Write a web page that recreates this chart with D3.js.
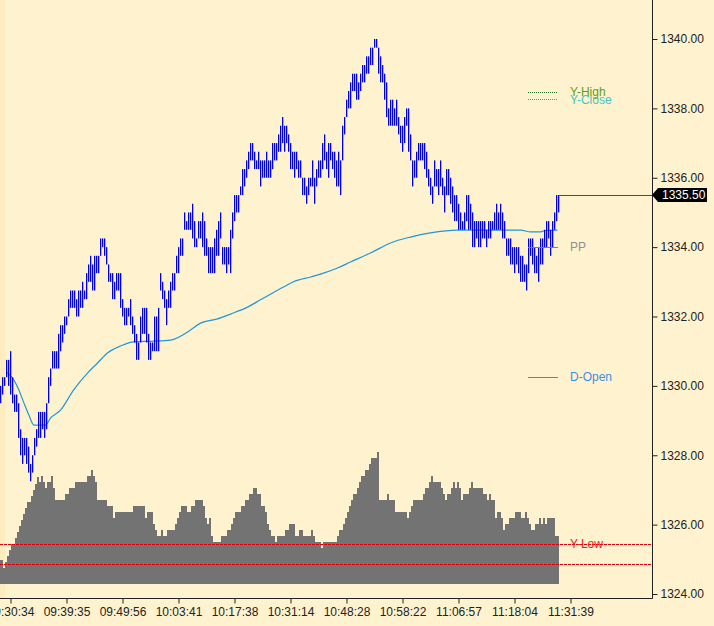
<!DOCTYPE html>
<html>
<head>
<meta charset="utf-8">
<script src="https://cdnjs.cloudflare.com/ajax/libs/d3/7.8.5/d3.min.js"></script>
<style>
  html, body { margin: 0; padding: 0; background: #fff2cf; overflow: hidden; }
  svg { display: block; font-family: "Liberation Sans", Arial, sans-serif; }
</style>
</head>
<body>
<div id="chart"></div>
<script>
// Bar highs / lows, one per tick bar (0.25 steps)
const highs = [
  1330.00,1330.25,1330.25,1330.75,1330.75,1331.00,1330.25,1329.75,1329.75,1329.50,
  1328.75,1328.50,1328.50,1328.50,1328.25,1327.75,1328.00,1328.50,1328.75,1329.25,
  1329.25,1329.25,1329.25,1329.50,1330.25,1330.50,1331.00,1331.00,1331.00,1331.50,
  1331.75,1331.75,1332.00,1332.00,1332.50,1332.75,1332.75,1332.75,1332.50,1332.75,
  1332.75,1333.00,1332.75,1333.25,1333.50,1333.75,1333.50,1333.75,1333.75,1333.75,
  1334.25,1334.25,1334.25,1334.00,1333.50,1333.25,1333.25,1333.00,1333.25,1333.25,
  1333.25,1332.50,1332.25,1332.25,1332.25,1332.50,1332.00,1331.75,1331.50,1331.25,
  1332.00,1332.25,1332.25,1332.25,1331.50,1331.25,1331.25,1332.00,1332.00,1332.25,
  1333.25,1333.00,1332.75,1332.50,1332.75,1333.00,1333.25,1333.25,1333.75,1334.00,
  1334.25,1334.25,1335.00,1334.75,1335.00,1335.00,1335.25,1334.75,1334.25,1334.75,
  1334.75,1335.00,1334.75,1334.25,1334.00,1334.00,1334.00,1334.25,1334.50,1334.75,
  1335.00,1334.00,1334.00,1334.00,1334.00,1334.50,1335.00,1335.50,1335.50,1335.50,
  1335.75,1336.25,1336.25,1336.50,1336.75,1337.00,1337.00,1336.75,1336.50,1336.75,
  1336.50,1336.50,1336.50,1336.75,1336.50,1336.50,1337.00,1337.00,1337.00,1337.25,
  1337.50,1337.75,1337.50,1337.50,1337.25,1337.00,1336.75,1336.75,1336.75,1336.50,
  1336.50,1336.00,1336.00,1335.75,1336.00,1336.00,1336.50,1336.00,1336.25,1336.50,
  1336.50,1337.00,1337.25,1336.75,1337.00,1337.00,1336.75,1336.75,1336.50,1336.75,
  1336.50,1337.50,1337.75,1338.25,1338.50,1338.75,1339.00,1339.00,1339.00,1338.75,
  1339.00,1339.25,1339.25,1339.50,1339.50,1339.75,1339.75,1340.00,1340.00,1339.75,
  1339.50,1339.25,1339.00,1338.75,1338.00,1338.25,1338.25,1338.00,1338.25,1337.75,
  1337.50,1337.50,1337.75,1338.00,1338.00,1337.25,1336.50,1336.50,1336.75,1337.00,
  1337.00,1337.00,1337.00,1336.75,1336.25,1336.00,1335.75,1336.50,1336.25,1336.25,
  1336.50,1336.00,1335.75,1336.25,1336.25,1336.00,1335.75,1335.50,1335.50,1335.25,
  1335.00,1334.75,1335.00,1335.50,1335.50,1335.25,1335.00,1334.75,1334.75,1334.75,
  1334.75,1334.75,1334.75,1334.50,1334.75,1334.75,1334.75,1335.00,1335.25,1335.00,
  1335.25,1335.00,1334.75,1334.25,1334.25,1334.25,1334.00,1334.00,1334.00,1334.00,
  1333.75,1333.75,1333.50,1333.50,1334.25,1334.25,1334.25,1334.00,1333.75,1334.00,
  1334.25,1334.25,1334.50,1334.75,1334.75,1334.50,1334.75,1335.00,1335.50,1335.50
];
const lows = [
  1329.50,1329.75,1330.00,1330.25,1330.00,1329.75,1329.50,1329.25,1329.25,1328.50,
  1328.00,1327.75,1328.00,1327.75,1327.50,1327.25,1327.50,1328.00,1328.25,1328.50,
  1328.50,1328.75,1328.50,1328.75,1329.50,1330.00,1330.50,1330.50,1330.50,1330.50,
  1331.00,1331.25,1331.50,1331.75,1332.00,1332.25,1332.25,1332.25,1332.00,1332.00,
  1332.25,1332.25,1332.50,1332.50,1333.00,1333.00,1332.75,1332.75,1333.25,1333.25,
  1333.75,1334.00,1333.75,1333.50,1333.00,1333.00,1332.50,1332.50,1332.75,1332.75,
  1332.25,1332.00,1331.75,1331.75,1332.00,1331.75,1331.50,1331.25,1330.75,1330.75,
  1331.25,1331.50,1331.50,1331.25,1330.75,1330.75,1331.00,1331.00,1331.00,1331.00,
  1332.75,1332.50,1332.25,1331.75,1332.25,1332.25,1332.75,1332.75,1333.25,1333.25,
  1333.75,1333.75,1334.50,1334.50,1334.50,1334.50,1334.25,1334.00,1334.00,1334.25,
  1334.25,1334.00,1333.75,1333.75,1333.25,1333.25,1333.25,1333.25,1333.75,1333.75,
  1334.25,1333.50,1333.50,1333.25,1333.50,1333.25,1334.25,1334.75,1335.00,1335.00,
  1335.50,1335.50,1335.75,1336.00,1336.25,1336.50,1336.50,1336.25,1336.25,1336.25,
  1335.75,1336.00,1336.00,1336.00,1336.00,1336.00,1336.25,1336.50,1336.50,1336.75,
  1336.75,1337.00,1336.75,1337.00,1336.75,1336.25,1336.25,1336.00,1336.25,1336.00,
  1336.00,1335.50,1335.50,1335.25,1335.50,1335.75,1335.75,1335.25,1335.75,1336.00,
  1336.00,1336.25,1336.50,1336.25,1336.00,1336.50,1336.25,1336.00,1335.75,1335.75,
  1335.50,1336.50,1337.25,1337.75,1338.00,1338.00,1338.50,1338.50,1338.25,1338.25,
  1338.50,1338.75,1338.75,1339.00,1339.00,1339.25,1339.25,1339.75,1339.75,1339.00,
  1338.75,1338.75,1338.25,1337.75,1337.50,1337.50,1337.50,1337.50,1337.50,1337.25,
  1337.00,1336.75,1337.00,1337.50,1336.75,1336.50,1335.75,1336.00,1336.00,1336.50,
  1336.50,1336.50,1336.25,1336.00,1335.75,1335.50,1335.25,1335.75,1335.75,1335.50,
  1335.75,1335.50,1335.00,1335.50,1335.50,1335.25,1335.00,1334.75,1334.75,1334.50,
  1334.50,1334.50,1334.50,1334.75,1334.50,1334.50,1334.00,1334.00,1334.25,1334.00,
  1334.00,1334.25,1334.25,1334.00,1334.25,1334.25,1334.50,1334.50,1334.50,1334.50,
  1334.50,1334.25,1334.25,1333.75,1333.75,1333.50,1333.50,1333.25,1333.50,1333.25,
  1333.00,1333.00,1333.00,1332.75,1333.25,1333.75,1333.50,1333.25,1333.25,1333.00,
  1333.50,1333.50,1334.00,1334.00,1334.25,1333.75,1334.00,1334.50,1334.75,1335.00
];
// Volume histogram, one column per bar
const volumes = [
  400,400,270,370,470,570,670,670,770,870,970,1070,1170,1270,1370,1370,1470,1570,1670,1780,
  1700,1800,1700,1600,1700,1700,1800,1600,1400,1400,1400,1400,1400,1500,1500,1600,1600,1600,1700,1700,
  1700,1700,1700,1700,1800,1800,1900,1800,1700,1400,1400,1400,1400,1400,1300,1300,1300,1100,1200,1200,
  1200,1200,1200,1200,1200,1200,1200,1300,1300,1300,1300,1300,1300,1100,1200,1200,1200,1000,900,800,
  800,900,800,800,900,900,900,900,1000,1100,1200,1300,1300,1300,1200,1200,1300,1300,1400,1400,
  1400,1400,1300,1100,1000,1100,800,700,700,700,700,800,800,800,900,900,1000,1100,1200,1200,
  1200,1300,1300,1400,1400,1500,1500,1600,1600,1500,1500,1300,1300,1200,1000,900,800,800,700,800,
  800,800,800,900,900,1000,1000,1000,800,800,900,900,800,800,800,800,900,800,700,700,
  700,600,700,700,700,700,700,700,700,800,900,900,1000,1100,1200,1300,1400,1500,1500,1600,
  1700,1800,1800,1900,1900,2000,2100,2100,2100,2200,1400,1400,1400,1400,1500,1400,1400,1400,1200,1200,
  1200,1200,1200,1200,1100,1200,1300,1400,1400,1400,1400,1400,1500,1600,1600,1700,1800,1700,1700,1700,
  1700,1600,1500,1400,1500,1500,1600,1700,1600,1700,1600,1400,1500,1500,1500,1600,1700,1600,1600,1600,
  1600,1600,1500,1500,1400,1500,1400,1400,1100,1200,1200,1100,900,1000,1000,1100,1100,1100,1200,1200,
  1200,1100,1100,1200,1100,1000,900,900,1000,1000,1100,1000,1100,1000,1100,1100,1100,1100,800,800
];
// Moving average, sampled at bar positions
const maIndex = [3.3, 6.7, 9.2, 11.7, 14.2, 16.7, 22.5, 25, 30, 36.5, 43.5, 48.5, 53.5, 60, 66.5, 76.5, 85,
  95, 100, 108.5, 115, 123.5, 130, 141.5, 146.5, 155, 161.5, 168.5, 175, 185, 195, 205, 215, 228.5,
  260, 265, 270, 272.5, 278.5];
const maValues = [1330.39, 1330.17, 1329.88, 1329.51, 1329.16, 1328.87, 1328.87, 1329.07, 1329.30, 1329.88,
  1330.37, 1330.66, 1330.95, 1331.15, 1331.27, 1331.29, 1331.32,
  1331.61, 1331.81, 1331.93, 1332.07, 1332.27, 1332.48, 1332.85, 1333.00, 1333.14, 1333.25, 1333.40,
  1333.57, 1333.83, 1334.12, 1334.29, 1334.41, 1334.49, 1334.49, 1334.44, 1334.44, 1334.48, 1334.49];

const priceTicks = [1324, 1326, 1328, 1330, 1332, 1334, 1336, 1338, 1340];
const timeLabels = ["09:30:34", "09:39:35", "09:49:56", "10:03:41", "10:17:38", "10:31:14",
  "10:48:28", "10:58:22", "11:06:57", "11:18:04", "11:31:39"];
const timeTickIndex = [5, 33, 61, 89, 117, 145, 173, 201, 229, 257, 285];

const lastPrice = 1335.50;
const levelNames = ["Y-High", "Y-Close", "PP", "D-Open", "Y-Low"];
const levelValues = [1338.48, 1338.26, 1334.00, 1330.27, 1325.44];
const yLowLines = [1325.44, 1324.87];

const W = 714, H = 626;
const axisX = 652, axisY = 598;
const levelStyle = {
  "Y-High": { line: "#1a6e1a", text: "#5f9e14", dash: "1,1" },
  "Y-Close": { line: "#2fa88e", text: "#49c2c2", dash: "1,1" },
  "PP": { line: "#808080", text: "#8f8f8f", dash: null },
  "D-Open": { line: "#3a8ee6", text: "#3f8fe4", dash: null },
  "Y-Low": { line: null, text: "#e8202a", dash: null }
};

const svg = d3.select("#chart").append("svg")
  .attr("width", W)
  .attr("height", H);

svg.append("rect").attr("width", W).attr("height", H).attr("fill", "#fff2cf");
svg.append("rect").attr("x", 0).attr("y", 0).attr("width", 5).attr("height", axisY)
  .attr("fill", "#ffecbf");

svg.append("defs").append("clipPath").attr("id", "plot")
  .append("rect").attr("x", 0).attr("y", 0).attr("width", axisX).attr("height", axisY);

const x = d3.scaleLinear().domain([0, 326]).range([0, 652]);
const y = d3.scaleLinear().domain([1324, 1340]).range([594, 39]);
const yVol = d3.scaleLinear().domain([0, 2400]).range([584, 440]);

const plot = svg.append("g").attr("clip-path", "url(#plot)");

// Volume
plot.append("g")
  .selectAll("rect")
  .data(volumes)
  .join("rect")
  .attr("x", (d, i) => x(i) - 1)
  .attr("width", x(1) - x(0))
  .attr("y", d => yVol(d))
  .attr("height", d => yVol(0) - yVol(d))
  .attr("fill", "#737373")
  .attr("shape-rendering", "crispEdges");

// Y-Low dashed lines
plot.append("g")
  .selectAll("line")
  .data(yLowLines)
  .join("line")
  .attr("x1", 0).attr("x2", axisX)
  .attr("y1", d => Math.round(y(d)) + 0.5)
  .attr("y2", d => Math.round(y(d)) + 0.5)
  .attr("stroke", "#e0000b")
  .attr("stroke-width", 1)
  .attr("stroke-dasharray", "3,1");

// Moving average
const maPts = maIndex.map((d, i) => [d, maValues[i]]);
plot.append("path")
  .datum(maPts)
  .attr("fill", "none")
  .attr("stroke", "#2196d8")
  .attr("stroke-width", 1.2)
  .attr("d", d3.line().x(d => x(d[0]) + 0.5).y(d => y(d[1])).curve(d3.curveMonotoneX));

// Price bars
plot.append("g")
  .selectAll("rect")
  .data(highs)
  .join("rect")
  .attr("x", (d, i) => x(i))
  .attr("width", 1.3)
  .attr("y", d => y(d))
  .attr("height", (d, i) => y(lows[i]) - y(d))
  .attr("fill", "#0000dc");

// Last price line
const lastY = Math.round(y(lastPrice)) + 0.5;
svg.append("line")
  .attr("x1", x(highs.length - 1) + 1).attr("x2", axisX)
  .attr("y1", lastY).attr("y2", lastY)
  .attr("stroke", "#ff0000");

// Level markers (short segments + names)
levelNames.forEach((name, i) => {
  const st = levelStyle[name];
  const ly = y(levelValues[i]);
  if (st.line) {
    svg.append("line")
      .attr("x1", 528).attr("x2", 558)
      .attr("y1", Math.round(ly) + 0.5).attr("y2", Math.round(ly) + 0.5)
      .attr("stroke", st.line)
      .attr("stroke-width", 1)
      .attr("stroke-dasharray", st.dash);
  }
  svg.append("text")
    .attr("x", 570)
    .attr("y", ly)
    .attr("dy", "0.35em")
    .attr("font-size", 12)
    .attr("fill", st.text)
    .text(name);
});

// Right price axis
const yAxis = d3.axisRight(y)
  .tickValues(priceTicks)
  .tickFormat(d3.format(".2f"))
  .tickSize(5)
  .tickPadding(3);
const gy = svg.append("g")
  .attr("transform", `translate(${axisX + 0.5},0)`)
  .call(yAxis);
gy.select(".domain").remove();
gy.selectAll("line").attr("stroke", "#222");
gy.selectAll("text").attr("font-size", 12).attr("fill", "#222")
  .attr("font-family", "'Liberation Sans', Arial, sans-serif");

svg.append("line")
  .attr("x1", axisX + 0.5).attr("x2", axisX + 0.5)
  .attr("y1", 0).attr("y2", axisY + 0.5)
  .attr("stroke", "#222");

// Bottom time axis
const xAxis = d3.axisBottom(x)
  .tickValues(timeTickIndex)
  .tickFormat((d, i) => timeLabels[i])
  .tickSize(5)
  .tickPadding(4);
const gx = svg.append("g")
  .attr("transform", `translate(0.5,${axisY + 0.5})`)
  .call(xAxis);
gx.select(".domain").remove();
gx.selectAll("line").attr("stroke", "#222");
gx.selectAll("text").attr("font-size", 12).attr("fill", "#222")
  .attr("font-family", "'Liberation Sans', Arial, sans-serif");

svg.append("line")
  .attr("x1", 0).attr("x2", axisX + 0.5)
  .attr("y1", axisY + 0.5).attr("y2", axisY + 0.5)
  .attr("stroke", "#222");

// Last price tag on the axis
const tagY = y(lastPrice);
svg.append("path")
  .attr("d", `M${axisX},${tagY} L${axisX + 6},${tagY - 7} L${axisX + 55},${tagY - 7} L${axisX + 55},${tagY + 7} L${axisX + 6},${tagY + 7} Z`)
  .attr("fill", "#000");
svg.append("text")
  .attr("x", axisX + 10)
  .attr("y", tagY)
  .attr("dy", "0.35em")
  .attr("font-size", 12)
  .attr("fill", "#fff")
  .text(d3.format(".2f")(lastPrice));
</script>
</body>
</html>
